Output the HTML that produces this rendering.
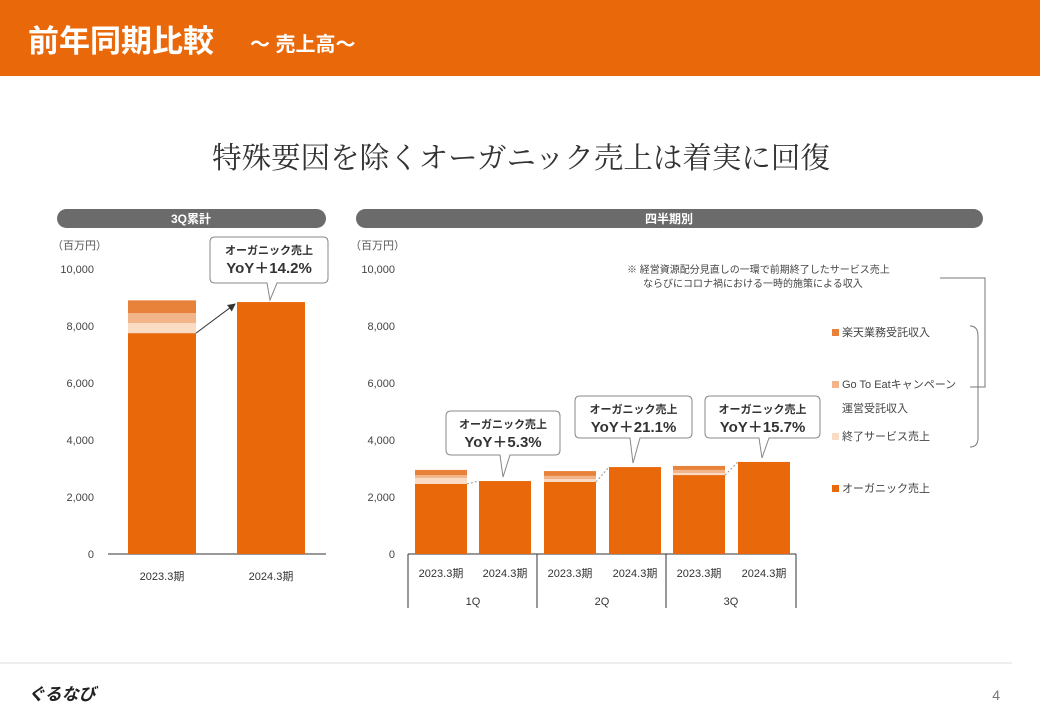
<!DOCTYPE html>
<html><head><meta charset="utf-8"><style>
body{margin:0;width:1040px;height:720px;background:#fff;overflow:hidden;font-family:"Liberation Sans","Noto Sans CJK JP",sans-serif;}
</style></head><body>
<svg id="s" width="1040" height="720" xmlns="http://www.w3.org/2000/svg" font-family="Liberation Sans, Noto Sans CJK JP, sans-serif">
<rect x="0" y="0" width="1040" height="76" fill="#E8680A"/>
<text x="28" y="52" font-size="31" font-weight="bold" fill="#fff">前年同期比較</text>
<text x="250" y="51" font-size="20" font-weight="bold" fill="#fff">～ 売上高～</text>
<text x="521" y="168" font-size="29.5" fill="#333" text-anchor="middle" style="font-family:'Noto Serif CJK SC',serif">特殊要因を除くオーガニック売上は着実に回復</text>
<rect x="57" y="209" width="269" height="19" rx="9.5" fill="#6b6b6b"/>
<text x="191" y="223" font-size="12" font-weight="bold" fill="#fff" text-anchor="middle">3Q累計</text>
<rect x="356" y="209" width="627" height="19" rx="9.5" fill="#6b6b6b"/>
<text x="669" y="223" font-size="12" font-weight="bold" fill="#fff" text-anchor="middle">四半期別</text>
<text x="52" y="249" font-size="11" fill="#555">（百万円）</text>
<text x="350" y="249" font-size="11" fill="#555">（百万円）</text>
<line x1="0" y1="663" x2="1012" y2="663" stroke="#ddd"/>
<text x="28" y="700" font-size="17" font-weight="bold" font-style="italic" fill="#222">ぐるなび</text>
<text x="1000" y="700" font-size="14" fill="#777" text-anchor="end">4</text>
<text x="627" y="273" font-size="10" fill="#444">※ 経営資源配分見直しの一環で前期終了したサービス売上</text>
<text x="643" y="287" font-size="10" fill="#444">ならびにコロナ禍における一時的施策による収入</text>
<path d="M940 278 H985 V387 H970" fill="none" stroke="#777"/>
<path d="M970 326 Q978 326 978 336 V438 Q978 447 970 447" fill="none" stroke="#777"/>
<g id="legend"></g>
<g id="chart"></g>
</svg>
<script>
const leftCats=["2023.3期","2024.3期"];
const leftOrganic=[7750,8840];
const leftEnd=[350,0];
const leftGoto=[350,0];
const leftRakuten=[450,0];
const qCats=["2023.3期","2024.3期","2023.3期","2024.3期","2023.3期","2024.3期"];
const qGroups=["1Q","2Q","3Q"];
const qOrganic=[2460,2560,2530,3050,2770,3230];
const qEnd=[210,0,100,0,70,0];
const qGoto=[100,0,110,0,110,0];
const qRakuten=[180,0,170,0,140,0];
const yTicks=[0,2000,4000,6000,8000,10000];
const yoyLeft=["YoY＋14.2%"];
const yoyQ=["YoY＋5.3%","YoY＋21.1%","YoY＋15.7%"];
const legendLabels=["楽天業務受託収入","Go To Eatキャンペーン","終了サービス売上","オーガニック売上"];

const NS="http://www.w3.org/2000/svg";
const g=document.getElementById('chart');
function el(t,a,p){const e=document.createElementNS(NS,t);for(const k in a)e.setAttribute(k,a[k]);(p||g).appendChild(e);return e;}
const y0=554,yTop=269,yMax=10000;
const ys=v=>y0-(v/yMax)*(y0-yTop);
const cols=["#E8680A","#FADBC4","#F2B58A","#E8823A"];
const fmt=v=>v.toLocaleString('en-US');
function ticks(x){yTicks.forEach(v=>{const t=el('text',{x:x,y:ys(v)+4,'font-size':11,fill:'#444','text-anchor':'end'});t.textContent=fmt(v);

});}
ticks(94);ticks(395);
function bar(x,w,vals,name){let acc=0;vals.forEach((v,i)=>{if(v<=0)return;const r=el('rect',{x:x,y:ys(acc+v),width:w,height:ys(acc)-ys(acc+v),fill:cols[i]});

acc+=v;});}
function callout(bx,by,bw,bh,px,py,txt,name){
const p=`M${bx+5} ${by} H${bx+bw-5} Q${bx+bw} ${by} ${bx+bw} ${by+5} V${by+bh-5} Q${bx+bw} ${by+bh} ${bx+bw-5} ${by+bh} H${px+7} L${px} ${py} L${px-3} ${by+bh} H${bx+5} Q${bx} ${by+bh} ${bx} ${by+bh-5} V${by+5} Q${bx} ${by} ${bx+5} ${by}Z`;
const c=el('path',{d:p,fill:'#fff',stroke:'#888','stroke-width':1});


const t1=el('text',{x:bx+bw/2,y:by+17,'font-size':11,'font-weight':'bold',fill:'#333','text-anchor':'middle'});t1.textContent='オーガニック売上';


const t2=el('text',{x:bx+bw/2,y:by+36,'font-size':15,'font-weight':'bold',fill:'#333','text-anchor':'middle'});t2.textContent=txt;

}
el('line',{x1:108,y1:y0,x2:326,y2:y0,stroke:'#333'});
const lx=[128,237];
leftCats.forEach((c,i)=>{bar(lx[i],68,[leftOrganic[i],leftEnd[i],leftGoto[i],leftRakuten[i]],'left-bar-'+i);
const t=el('text',{x:lx[i]+34,y:580,'font-size':11,fill:'#333','text-anchor':'middle'});t.textContent=c;

});
el('defs',{}).innerHTML='<marker id="ah" markerWidth="8" markerHeight="8" refX="7" refY="4" orient="auto"><path d="M0 0L8 4L0 8z" fill="#333"/></marker>';
const la=el('line',{x1:196,y1:ys(leftOrganic[0]),x2:235,y2:ys(leftOrganic[1])+2,stroke:'#333','marker-end':'url(#ah)'});


callout(210,237,118,46,270,ys(leftOrganic[1])-2,yoyLeft[0],'callout-3q');
el('line',{x1:408,y1:y0,x2:796,y2:y0,stroke:'#333'});
const qx=[415,479,544,609,673,738];
qCats.forEach((c,i)=>{bar(qx[i],52,[qOrganic[i],qEnd[i],qGoto[i],qRakuten[i]],'q-bar-'+i);
const t=el('text',{x:qx[i]+26,y:577,'font-size':11,fill:'#333','text-anchor':'middle'});t.textContent=c;

});
[408,537,666,796].forEach(x=>el('line',{x1:x,y1:y0,x2:x,y2:608,stroke:'#333'}));
const cb=[[446,411,114,44],[575,396,117,42],[705,396,115,42]];
qGroups.forEach((q,k)=>{const t=el('text',{x:473+k*129,y:605,'font-size':11,fill:'#333','text-anchor':'middle'});t.textContent=q;


const a=k*2,b=a+1;
const d=el('line',{x1:qx[a]+52,y1:ys(qOrganic[a]),x2:qx[b],y2:ys(qOrganic[b]),stroke:'#999','stroke-dasharray':'2,2'});


const c=cb[k];callout(c[0],c[1],c[2],c[3],qx[b]+24,ys(qOrganic[b])-4,yoyQ[k],'callout-'+q);});
const lg=document.getElementById('legend');
const ly=[336,388,440,492],lc=["#E8823A","#F2B58A","#FADBC4","#E8680A"];
legendLabels.forEach((l,i)=>{el('rect',{x:832,y:ly[i]-7,width:7,height:7,fill:lc[i]},lg);
const t=el('text',{x:842,y:ly[i],'font-size':11,fill:'#444'},lg);t.textContent=l;

});
const t2=el('text',{x:842,y:412,'font-size':11,fill:'#444'},lg);t2.textContent='運営受託収入';


</script>
</body></html>
